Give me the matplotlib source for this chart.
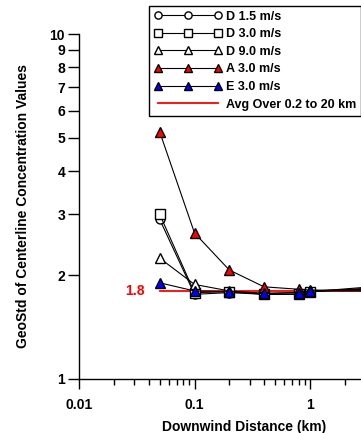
import matplotlib
matplotlib.use('Agg')
import matplotlib.pyplot as plt
from matplotlib.ticker import FuncFormatter, LogLocator, NullLocator

plt.rcParams['font.family'] = ['Liberation Sans', 'DejaVu Sans']
plt.rcParams['font.weight'] = 'bold'

# downwind distance (km)
dist = [0.05, 0.1, 0.2, 0.4, 0.8, 1.0, 5.0, 10.0, 20.0]

# geometric std of centerline concentrations
d15 = [2.90, 1.76, 1.78, 1.76, 1.76, 1.79, 1.87, 1.88, 1.88]
d30 = [3.00, 1.78, 1.79, 1.76, 1.76, 1.79, 1.85, 1.86, 1.86]
d90 = [2.24, 1.88, 1.80, 1.77, 1.78, 1.80, 1.83, 1.84, 1.84]
a30 = [5.20, 2.65, 2.07, 1.85, 1.82, 1.81, 1.81, 1.82, 1.82]
e30 = [1.90, 1.80, 1.79, 1.77, 1.78, 1.80, 1.80, 1.81, 1.81]

avg_x = [0.05, 20.0]
avg_val = 1.8

labels = ['D 1.5 m/s', 'D 3.0 m/s', 'D 9.0 m/s', 'A 3.0 m/s', 'E 3.0 m/s',
          'Avg Over 0.2 to 20 km']

fig = plt.figure(figsize=(3.61, 4.33), dpi=100)
ax = fig.add_axes([79 / 361, 54 / 433, 462 / 361, 345 / 433])

avg_line, = ax.plot(avg_x, [avg_val, avg_val], color='red', lw=1.3, zorder=1)

series = [
    (d15, 'o', 'white', 6.5),
    (d30, 's', 'white', 7),
    (d90, '^', 'white', 7),
    (a30, '^', 'red', 7),
    (e30, '^', 'blue', 7),
]
handles = []
for vals, mk, fc, ms in series:
    h, = ax.plot(dist, vals, color='black', lw=0.8, marker=mk, ms=ms,
                 mfc=fc, mec='black', mew=1.0, zorder=2)
    handles.append(h)
handles.append(avg_line)

ax.annotate('1.8', xy=(0.05, avg_val), xytext=(-11, 0),
            textcoords='offset points', ha='right', va='center',
            color='red', fontsize=10, fontweight='bold')

ax.set_xscale('log')
ax.set_yscale('log')
ax.set_xlim(0.01, 100)
ax.set_ylim(1, 10)

# only the decades that fit in the picture get a label
ax.xaxis.set_major_locator(LogLocator(base=10))
ax.xaxis.set_minor_locator(LogLocator(base=10, subs=range(2, 10)))
ax.xaxis.set_major_formatter(FuncFormatter(lambda v, p: f'{v:g}' if v <= 1 else ''))
ax.xaxis.set_minor_formatter(FuncFormatter(lambda v, p: ''))

ax.set_yticks(range(1, 11))
ax.set_yticklabels([str(i) for i in range(1, 11)])
ax.yaxis.set_minor_locator(NullLocator())

ax.tick_params(axis='x', which='major', direction='out', length=7, width=1,
               pad=7, labelsize=10)
ax.tick_params(axis='x', which='minor', direction='out', length=4.3, width=1)
ax.tick_params(axis='y', which='major', direction='out', length=8, width=1,
               pad=2, labelsize=10)

for s in ['top', 'right']:
    ax.spines[s].set_visible(False)
for s in ['left', 'bottom']:
    ax.spines[s].set_linewidth(1)

ax.set_xlabel('Downwind Distance (km)', fontsize=10, fontweight='bold')
ax.xaxis.set_label_coords((244 - 79) / 462, -48 / 345)
ax.xaxis.label.set_va('center')
ax.set_ylabel('GeoStd of Centerline Concentration Values', fontsize=10,
              fontweight='bold')
ax.yaxis.set_label_coords((23 - 79) / 462, 0.5)
ax.yaxis.label.set_va('center')

leg = ax.legend(handles, labels, loc='upper left',
                bbox_to_anchor=(149 / 361, 1 - 5.5 / 433),
                bbox_transform=fig.transFigure, numpoints=3,
                fontsize=9, markerscale=0.8, handlelength=5.4,
                handletextpad=0.35, labelspacing=0.45, borderpad=0.4,
                borderaxespad=0, fancybox=False, framealpha=1)
leg.get_frame().set_edgecolor('black')
leg.get_frame().set_linewidth(1)

fig.savefig('out.png', dpi=100)
